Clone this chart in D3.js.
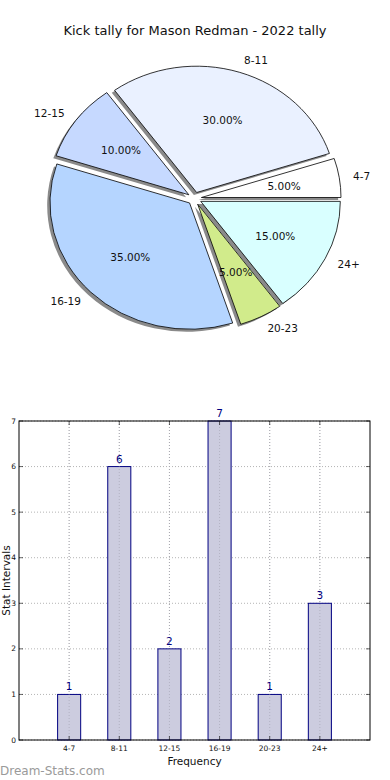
<!DOCTYPE html>
<html><head><meta charset="utf-8">
<script src="https://cdn.jsdelivr.net/npm/d3@7"></script>
<style>body{margin:0;background:#fff;}svg{display:block;font-family:"DejaVu Sans",sans-serif;}</style>
</head><body>
<script>
const title = "Kick tally for Mason Redman - 2022 tally";
const categories = ["4-7","8-11","12-15","16-19","20-23","24+"];
const counts = [1,6,2,7,1,3];
const pieColors = ["#ffffff","#eaf1ff","#c6d9ff","#b5d5ff","#d1eb8b","#d9ffff"];
const yTicks = [0,1,2,3,4,5,6,7];
const xLabel = "Frequency";
const yLabel = "Stat Intervals";
const watermark = "Dream-Stats.com";

const W = 390, H = 780;
const svg = d3.select("body").append("svg").attr("width",W).attr("height",H);

svg.append("text").attr("x",195).attr("y",30).attr("text-anchor","middle")
  .attr("dominant-baseline","central").attr("font-size",13).attr("fill","#111").text(title);

// ---- Pie (elliptical, matplotlib-like: ccw from east) ----
const cx = 194.5, cy = 198.5, rx = 139.6, ry = 126.3, explode = 0.05;
const total = d3.sum(counts);
const pie = d3.pie().sort(null).startAngle(0).endAngle(2*Math.PI);
const arcs = pie(counts);
const unitArc = d3.arc().innerRadius(0).outerRadius(1);
const g = svg.append("g");
function wedgePath(d){
  return unitArc({startAngle: Math.PI/2 - d.endAngle, endAngle: Math.PI/2 - d.startAngle});
}
arcs.forEach((d,i)=>{
  const tm = (d.startAngle + d.endAngle)/2;
  const ox = explode*rx*Math.cos(tm), oy = -explode*ry*Math.sin(tm);
  g.append("path").attr("d",wedgePath(d))
    .attr("transform",`translate(${cx+ox-0.02*rx},${cy+oy+0.02*ry}) scale(${rx},${ry})`)
    .attr("fill","#8a8a8a").attr("stroke","none");
});
arcs.forEach((d,i)=>{
  const tm = (d.startAngle + d.endAngle)/2;
  const ox = explode*rx*Math.cos(tm), oy = -explode*ry*Math.sin(tm);
  g.append("path").attr("d",wedgePath(d))
    .attr("transform",`translate(${cx+ox},${cy+oy}) scale(${rx},${ry})`)
    .attr("fill",pieColors[i]).attr("stroke","#000").attr("stroke-width",0.8)
    .attr("vector-effect","non-scaling-stroke");
});
arcs.forEach((d,i)=>{
  const tm = (d.startAngle + d.endAngle)/2;
  const c = Math.cos(tm), s = Math.sin(tm);
  const ox = explode*rx*c, oy = -explode*ry*s;
  const lx = cx+ox+1.1*rx*c, ly = cy+oy-1.1*ry*s;
  g.append("text").attr("x",lx).attr("y",ly)
    .attr("text-anchor", c>0?"start":"end").attr("dominant-baseline","central")
    .attr("font-size",10.5).attr("fill","#111").text(categories[i]);
  const px = cx+ox+0.6*rx*c, py = cy+oy-0.6*ry*s;
  g.append("text").attr("x",px).attr("y",py).attr("text-anchor","middle")
    .attr("dominant-baseline","central").attr("font-size",10.5).attr("fill","#111")
    .text(d3.format(".2f")(counts[i]/total*100)+"%");
});

// ---- Bar chart ----
const L = 19, R = 370, T = 421, B = 740;
const x = d3.scaleLinear().domain([0,7]).range([L,R]);
const y = d3.scaleLinear().domain([0,7]).range([B,T]);
const bw = 0.46;
const bg = svg.append("g");
bg.selectAll(".gy").data(yTicks).enter().append("line")
  .attr("x1",L).attr("x2",R).attr("y1",d=>y(d)).attr("y2",d=>y(d))
  .attr("stroke","#b4b4b4").attr("stroke-dasharray","1,2").attr("stroke-width",1);
bg.selectAll(".gx").data(categories).enter().append("line")
  .attr("x1",(d,i)=>x(i+1)).attr("x2",(d,i)=>x(i+1)).attr("y1",T).attr("y2",B)
  .attr("stroke","#b4b4b4").attr("stroke-dasharray","1,2").attr("stroke-width",1);
bg.selectAll(".bar").data(counts).enter().append("rect")
  .attr("x",(d,i)=>x(i+1-bw/2)).attr("width",x(bw)-x(0))
  .attr("y",d=>y(d)).attr("height",d=>B-y(d))
  .attr("fill","#ccccdf").attr("stroke","#000080").attr("stroke-width",1);
bg.selectAll(".gx2").data(categories).enter().append("line")
  .attr("x1",(d,i)=>x(i+1)).attr("x2",(d,i)=>x(i+1)).attr("y1",T).attr("y2",B)
  .attr("stroke","#9a9aaa").attr("stroke-opacity",0.5).attr("stroke-dasharray","1,2").attr("stroke-width",1);
bg.selectAll(".vl").data(counts).enter().append("text")
  .attr("x",(d,i)=>x(i+1)).attr("y",d=>y(d)-4).attr("text-anchor","middle")
  .attr("font-size",10.5).attr("fill","#000080").text(d=>d);
bg.append("rect").attr("x",L).attr("y",T).attr("width",R-L).attr("height",B-T)
  .attr("fill","none").attr("stroke","#000").attr("stroke-width",1);
yTicks.forEach(t=>{
  bg.append("line").attr("x1",L).attr("x2",L+4).attr("y1",y(t)).attr("y2",y(t)).attr("stroke","#000").attr("stroke-width",0.6);
  bg.append("line").attr("x1",R-4).attr("x2",R).attr("y1",y(t)).attr("y2",y(t)).attr("stroke","#000").attr("stroke-width",0.6);
  bg.append("text").attr("x",L-3).attr("y",y(t)).attr("text-anchor","end")
    .attr("dominant-baseline","central").attr("font-size",7.5).attr("fill","#111").text(t);
});
categories.forEach((c,i)=>{
  bg.append("line").attr("x1",x(i+1)).attr("x2",x(i+1)).attr("y1",B).attr("y2",B-4).attr("stroke","#000").attr("stroke-width",0.6);
  bg.append("line").attr("x1",x(i+1)).attr("x2",x(i+1)).attr("y1",T).attr("y2",T+4).attr("stroke","#000").attr("stroke-width",0.6);
  bg.append("text").attr("x",x(i+1)).attr("y",B+8).attr("text-anchor","middle")
    .attr("dominant-baseline","central").attr("font-size",7.5).attr("fill","#111").text(c);
});
svg.append("text").attr("x",(L+R)/2).attr("y",761).attr("text-anchor","middle")
  .attr("dominant-baseline","central").attr("font-size",10.5).attr("fill","#111").text(xLabel);
svg.append("text").attr("transform",`translate(6,${(T+B)/2}) rotate(-90)`).attr("text-anchor","middle")
  .attr("dominant-baseline","central").attr("font-size",10.5).attr("fill","#111").text(yLabel);
svg.append("text").attr("x",0).attr("y",771).attr("dominant-baseline","central")
  .attr("font-size",12).attr("fill","#9a9a9a").text(watermark);
</script>
</body></html>
